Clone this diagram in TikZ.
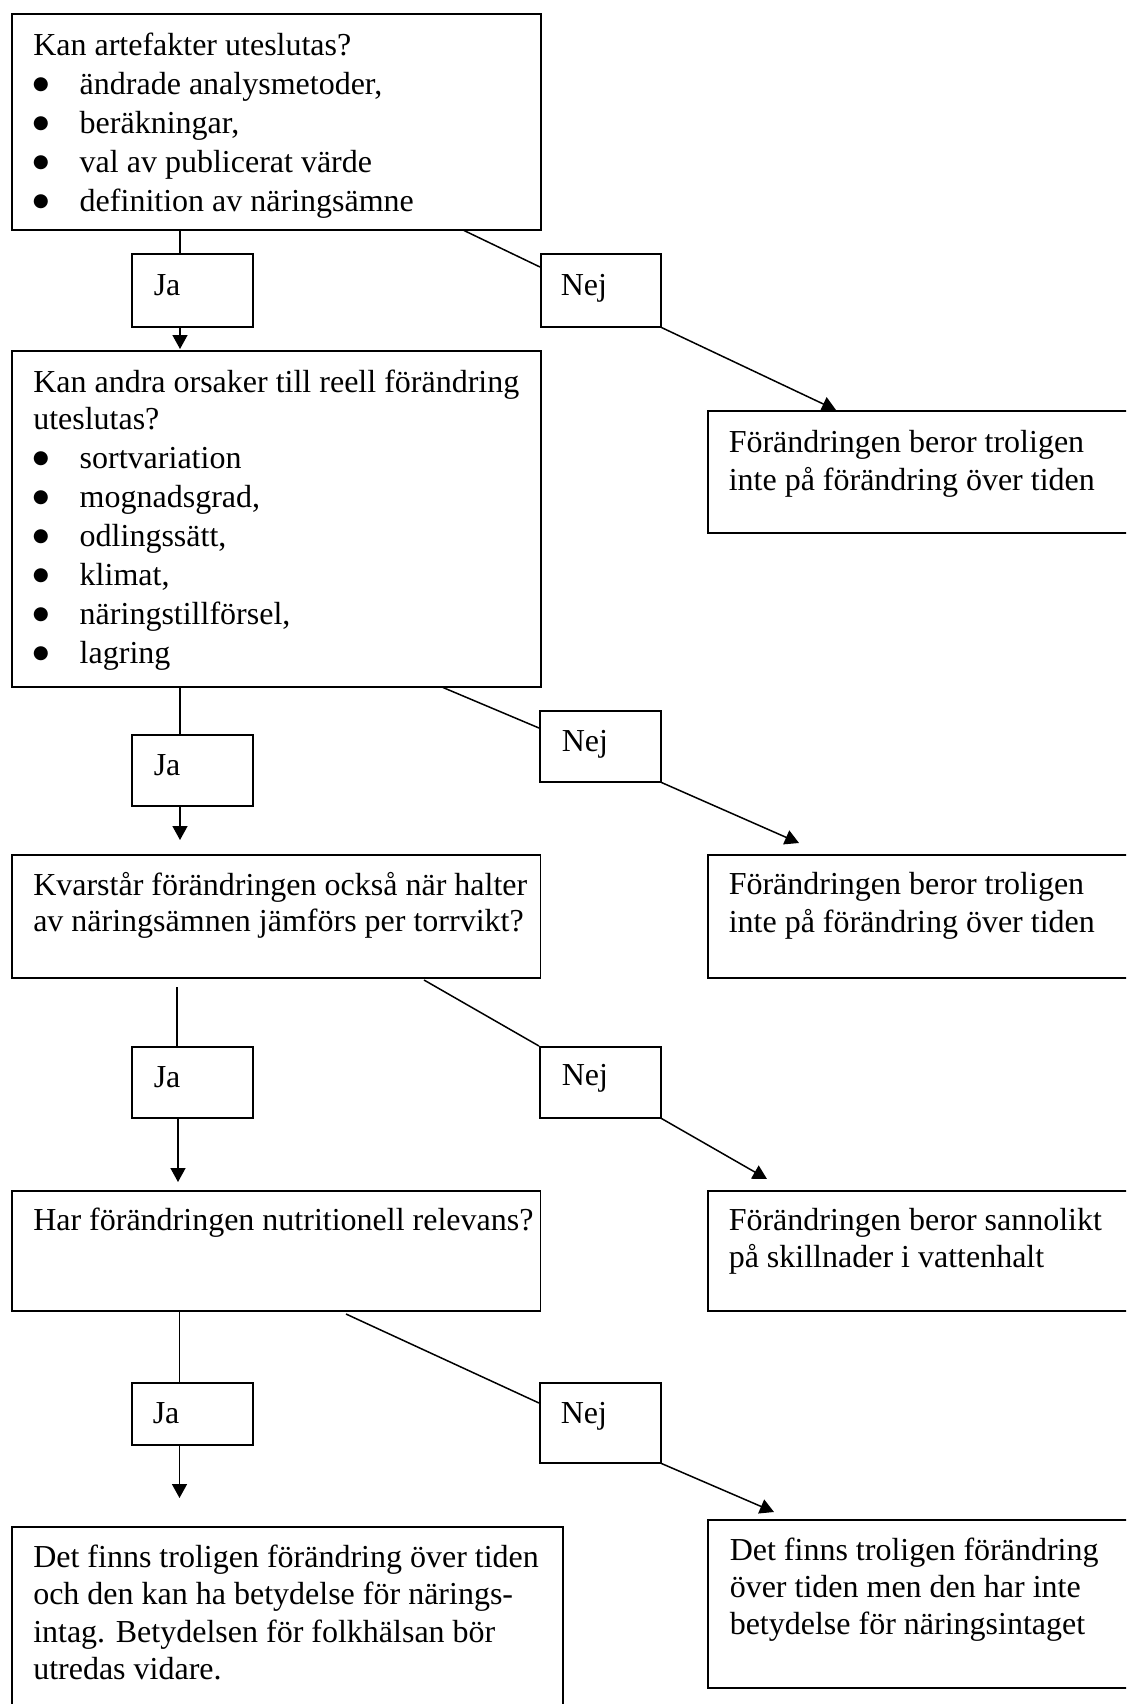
\documentclass[tikz,border=0pt]{standalone}
\usepackage{fontspec}
\setmainfont{Liberation Serif}
\newfontfamily\dejavu{DejaVu Sans}
\usetikzlibrary{arrows.meta,calc}
\begin{document}
\begin{tikzpicture}[x=0.5pt,y=-0.5pt, line width=0.75pt,
  box/.style={draw, rectangle, inner sep=0pt, anchor=north west},
  txt/.style={inner sep=0pt, anchor=base west, font=\fontsize{16}{19}\selectfont},
  arr/.style={-{Triangle[length=7pt,width=7.5pt]}}]
\useasboundingbox (0,0) rectangle (1126,1704);
\clip (0,0) rectangle (1126,1704);
\newcommand{\bul}{\makebox[23.5pt][l]{\raisebox{2.3pt}{\dejavu\fontsize{9.2}{11}\selectfont ●}}}
% boxes
\node[box, minimum width=264.5pt, minimum height=108pt] (b1) at (11,13) {};
\node[box, minimum width=60.5pt, minimum height=36.5pt] (ja1) at (131,253) {};
\node[box, minimum width=60pt, minimum height=36.5pt] (n1) at (540,253) {};
\node[box, minimum width=264.5pt, minimum height=168pt] (b2) at (11,350) {};
\node[box, minimum width=215pt, minimum height=61pt] (r1) at (707,410) {};
\node[box, minimum width=60.5pt, minimum height=35.5pt] (ja2) at (131,734) {};
\node[box, minimum width=60.5pt, minimum height=35.5pt] (n2) at (539,710) {};
\node[box, minimum width=215pt, minimum height=61.5pt] (r2) at (707,854) {};
\node[box, minimum width=264.25pt, minimum height=61.5pt] (b3) at (11,854) {};
\node[box, minimum width=60.5pt, minimum height=35.5pt] (ja3) at (131,1046) {};
\node[box, minimum width=60.5pt, minimum height=35.5pt] (n3) at (539,1046) {};
\node[box, minimum width=264.25pt, minimum height=60pt] (b4) at (11,1190) {};
\node[box, minimum width=215pt, minimum height=60pt] (r3) at (707,1190) {};
\node[box, minimum width=60.5pt, minimum height=31pt] (ja4) at (131,1382) {};
\node[box, minimum width=60.5pt, minimum height=40pt] (n4) at (539,1382) {};
\node[box, minimum width=275.5pt, minimum height=100pt] (b5) at (11,1526) {};
\node[box, minimum width=215pt, minimum height=84pt] (r4) at (707,1519) {};
% texts box 1
\node[txt] (l11) at (32.5,55) {Kan artefakter uteslutas?};
\node[txt] (l12) at (32,94) {\bul ändrade analysmetoder,};
\node[txt] (l13) at (32,133) {\bul beräkningar,};
\node[txt] (l14) at (32,172) {\bul val av publicerat värde};
\node[txt] (l15) at (32,211) {\bul definition av näringsämne};
% box 2
\node[txt] (l21) at (32.5,392) {Kan andra orsaker till reell förändring};
\node[txt] (l22) at (32.5,429) {uteslutas?};
\node[txt] (l23) at (32,468) {\bul sortvariation};
\node[txt] (l24) at (32,507) {\bul mognadsgrad,};
\node[txt] (l25) at (32,546) {\bul odlingssätt,};
\node[txt] (l26) at (32,585) {\bul klimat,};
\node[txt] (l27) at (32,624) {\bul näringstillförsel,};
\node[txt] (l28) at (32,663) {\bul lagring};
% box 3, 4, 5
\node[txt] (l31) at (32.5,895) {Kvarstår förändringen också när halter};
\node[txt] (l32) at (32.5,931) {av näringsämnen jämförs per torrvikt?};
\node[txt] (l41) at (32.5,1230) {Har förändringen nutritionell relevans?};
\node[txt] (l51) at (32.5,1567) {Det finns troligen förändring över tiden};
\node[txt] (l52) at (32.5,1604) {och den kan ha betydelse för närings-};
\node[txt] (l53) at (32.5,1642) {intag. Betydelsen för folkhälsan bör};
\node[txt] (l54) at (32.5,1679) {utredas vidare.};
% right boxes
\node[txt] (r11) at (728,452) {Förändringen beror troligen};
\node[txt] (r12) at (728,490) {inte på förändring över tiden};
\node[txt] (r21) at (728,894) {Förändringen beror troligen};
\node[txt] (r22) at (728,932) {inte på förändring över tiden};
\node[txt] (r31) at (728,1230) {Förändringen beror sannolikt};
\node[txt] (r32) at (728,1267) {på skillnader i vattenhalt};
\node[txt] (r41) at (729,1560) {Det finns troligen förändring};
\node[txt] (r42) at (729,1597) {över tiden men den har inte};
\node[txt] (r43) at (729,1634) {betydelse för näringsintaget};
% Ja / Nej labels
\node[txt] (ja1t) at (153,295) {Ja};
\node[txt] (ja2t) at (153,775) {Ja};
\node[txt] (ja3t) at (153,1087) {Ja};
\node[txt] (ja4t) at (152,1423) {Ja};
\node[txt] (n1t) at (560,295) {Nej};
\node[txt] (n2t) at (561,751) {Nej};
\node[txt] (n3t) at (561,1085) {Nej};
\node[txt] (n4t) at (560,1423) {Nej};
% Ja connectors
\coordinate (t1) at (180,349);
\draw (b1.south -| t1) -- (ja1.north -| t1);
\draw[arr] (ja1.south -| t1) -- (t1);
\coordinate (t2) at (180,840);
\draw (b2.south -| t2) -- (ja2.north -| t2);
\draw[arr] (ja2.south -| t2) -- (t2);
\coordinate (s3) at (177,987);
\coordinate (t3) at (178,1182);
\draw (s3) -- (ja3.north -| s3);
\draw[arr] (ja3.south -| t3) -- (t3);
\coordinate (t4) at (179.5,1498);
\draw (b4.south -| t4) -- (ja4.north -| t4);
\draw[arr] (ja4.south -| t4) -- (t4);
% Nej connectors
\draw ($(b1.south west)+(453,0)$) -- ($(n1.north west)+(0,14)$);
\coordinate (u1) at (836,410);
\draw[arr] (n1.south east) -- (u1);
\draw ($(b2.south west)+(432,0)$) -- ($(n2.north west)+(0,18)$);
\coordinate (u2) at (799,843);
\draw[arr] (n2.south east) -- (u2);
\coordinate (s5) at (424,980);
\draw (s5) -- (n3.north west);
\coordinate (u3) at (767,1179);
\draw[arr] (n3.south east) -- (u3);
\coordinate (s6) at (346,1314);
\draw (s6) -- ($(n4.north west)+(0,21)$);
\coordinate (u4) at (774,1512);
\draw[arr] (n4.south east) -- (u4);
\end{tikzpicture}
\end{document}
